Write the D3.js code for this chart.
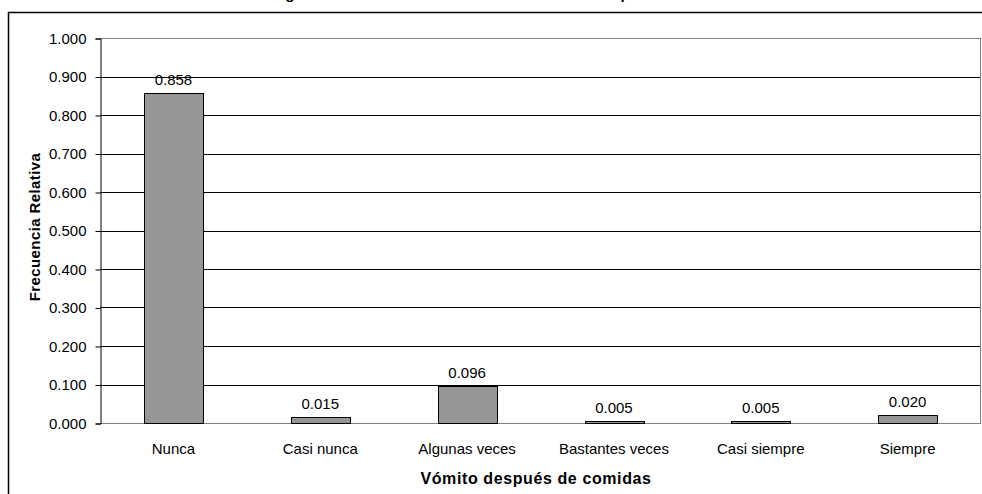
<!DOCTYPE html>
<html>
<head>
<meta charset="utf-8">
<script src="https://cdn.jsdelivr.net/npm/d3@7"></script>
<style>
  body { margin: 0; background: #fff; }
  text { font-family: Arial, "Liberation Sans", sans-serif; fill: #000; }
</style>
</head>
<body>
<div id="container"></div>
<script>
// Chart data
var categories = ['Nunca', 'Casi nunca', 'Algunas veces', 'Bastantes veces', 'Casi siempre', 'Siempre'];
var values = [0.858, 0.015, 0.096, 0.005, 0.005, 0.020];
var yTicks = [0, 0.1, 0.2, 0.3, 0.4, 0.5, 0.6, 0.7, 0.8, 0.9, 1.0];
var chartTitle = 'Histograma de Frecuencias Relativas de Vómito después de comidas';
var xTitle = 'Vómito después de comidas';
var yTitle = 'Frecuencia Relativa';

// Plot constants (window.top is reserved, so prefixed names)
var width = 982,
height = 494,
plotLeft = 100,
plotRight = 981,
plotTop = 38,
plotBottom = 423;

var svg = d3.select('#container').append('svg').attr('width', width).attr('height', height)
  .style('display', 'block');

// outer chart frame (cut by the picture edge)
svg.append('rect')
  .attr('x', 8.5).attr('y', 12.5)
  .attr('width', 1000).attr('height', 600)
  .attr('fill', 'none').attr('stroke', '#000').attr('stroke-width', 1.5);

// title, mostly above the picture: only its lowest pixels show
svg.append('text')
  .attr('x', 495).attr('y', -1)
  .attr('text-anchor', 'middle')
  .style('font-weight', 'bold').style('font-size', '15px')
  .text(chartTitle);

var x = d3.scaleBand().domain(categories).range([plotLeft, plotRight]).paddingInner(0.6).paddingOuter(0.3);
var y = d3.scaleLinear().domain([0, 1]).range([plotBottom, plotTop]);

// gridlines
svg.append('g')
  .selectAll('line')
  .data(yTicks)
  .enter()
  .append('line')
  .attr('x1', plotLeft).attr('x2', plotRight)
  .attr('y1', d => Math.round(y(d)) + 0.5).attr('y2', d => Math.round(y(d)) + 0.5)
  .attr('stroke', (d, i) => (i === 0 || i === yTicks.length - 1) ? '#808080' : '#000')
  .attr('stroke-width', 1);

// right border of the plot area
svg.append('line')
  .attr('x1', plotRight - 0.5).attr('x2', plotRight - 0.5)
  .attr('y1', plotTop).attr('y2', plotBottom)
  .attr('stroke', '#808080');

// bars
svg.append('g')
  .selectAll('rect')
  .data(values)
  .enter()
  .append('rect')
  .attr('x', (d, i) => Math.round(x(categories[i])) + 0.5)
  .attr('y', d => Math.round(y(d)) + 0.5)
  .attr('width', Math.round(x.bandwidth()))
  .attr('height', d => Math.round(y(0)) - Math.round(y(d)))
  .attr('fill', '#969696')
  .attr('stroke', '#000');

// value labels
svg.append('g')
  .selectAll('text')
  .data(values)
  .enter()
  .append('text')
  .attr('x', (d, i) => x(categories[i]) + x.bandwidth() / 2)
  .attr('y', d => y(d) - 8)
  .attr('text-anchor', 'middle')
  .style('font-size', '15px')
  .text(d => d.toFixed(3));

// y axis
var yAxis = d3.axisLeft(y).tickValues(yTicks).tickFormat(d3.format('.3f')).tickSize(5).tickPadding(9);
svg.append('g')
  .attr('transform', 'translate(' + (plotLeft + 0.5) + ',0.5)')
  .call(yAxis)
  .call(g => g.attr('font-family', null).attr('font-size', null))
  .call(g => g.selectAll('text').style('font-size', '15px'))
  .call(g => g.selectAll('line,path').attr('stroke', '#000'));

// x axis labels
svg.append('g')
  .selectAll('text')
  .data(categories)
  .enter()
  .append('text')
  .attr('x', d => x(d) + x.bandwidth() / 2)
  .attr('y', 454)
  .attr('text-anchor', 'middle')
  .style('font-size', '15px')
  .text(d => d);

// axis titles
svg.append('text')
  .attr('x', 536).attr('y', 484)
  .attr('text-anchor', 'middle')
  .style('font-weight', 'bold').style('font-size', '16px').style('letter-spacing', '0.6px')
  .text(xTitle);

svg.append('text')
  .attr('transform', 'translate(40,227) rotate(-90)')
  .attr('text-anchor', 'middle')
  .style('font-weight', 'bold').style('font-size', '15px').style('letter-spacing', '0.4px')
  .text(yTitle);
</script>
</body>
</html>
